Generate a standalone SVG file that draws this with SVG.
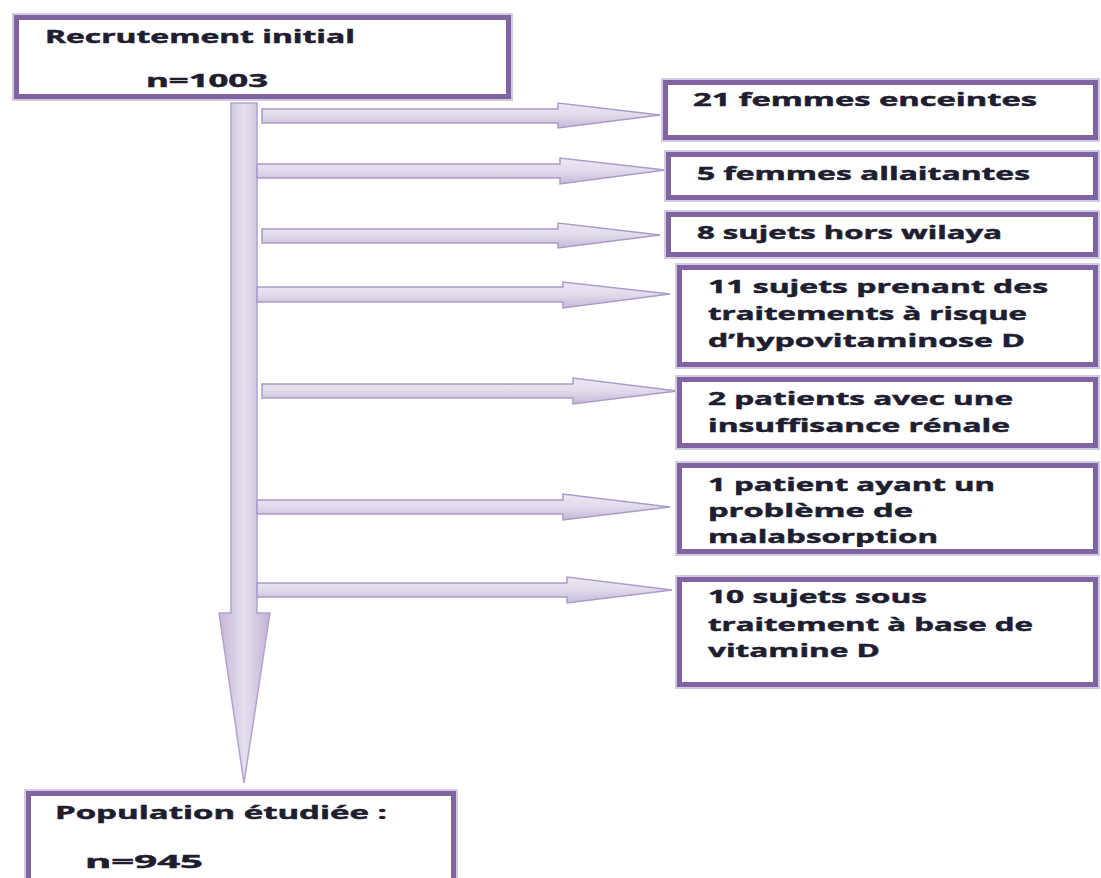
<svg xmlns="http://www.w3.org/2000/svg" width="1101" height="878" viewBox="0 0 1101 878">
  <defs>
    <linearGradient id="shaftV" x1="0" y1="0" x2="1" y2="0">
      <stop offset="0" stop-color="#c4b6d8"/>
      <stop offset="0.5" stop-color="#e6e0ef"/>
      <stop offset="1" stop-color="#c0b1d6"/>
    </linearGradient>
    <linearGradient id="shaftH" x1="0" y1="0" x2="0" y2="1">
      <stop offset="0" stop-color="#ece8f3"/>
      <stop offset="0.45" stop-color="#e3dcec"/>
      <stop offset="1" stop-color="#c6b9d9"/>
    </linearGradient>
    <clipPath id="clip6">
      <rect x="682" y="468" width="411" height="79"/>
    </clipPath>
    <style>
      .box { fill: #ffffff; stroke: #8064a2; stroke-width: 5; }
      .halo { fill: none; stroke: #d3c9e1; stroke-width: 9; }
      .lbl { font-family: "Open Sans", "DejaVu Sans", sans-serif; font-weight: 700; font-size: 17px; fill: #1e1e30; stroke: #1e1e30; stroke-width: 0.45; }
      .arrowH { fill: url(#shaftH); stroke: #ab9bc8; stroke-width: 1.5; stroke-linejoin: miter; }
      .arrowV { fill: url(#shaftV); stroke: #b3a4cc; stroke-width: 1.5; }
    </style>
  </defs>

  <!-- connectors: main downward flow and the exclusion branches -->
  <g id="connectors">
    <path class="arrowV" d="M231,103 H257 V613 H270 L244,783 L219,613 H231 Z"/>
    <path class="arrowH" d="M262,109 H558 V103 L660,115 L558,128 V123 H262 Z"/>
    <path class="arrowH" d="M257,164 H560 V158 L665,170 L560,184 V178 H257 Z"/>
    <path class="arrowH" d="M262,229 H558 V223 L660,235 L558,248 V243 H262 Z"/>
    <path class="arrowH" d="M257,287 H563 V282 L670,294 L563,308 V302 H257 Z"/>
    <path class="arrowH" d="M262,384 H573 V378 L677,391 L573,404 V398 H262 Z"/>
    <path class="arrowH" d="M257,500 H563 V494 L670,507 L563,520 V514 H257 Z"/>
    <path class="arrowH" d="M257,583 H567 V577 L672,590 L567,603 V597 H257 Z"/>
  </g>

  <g id="recrutement">
    <rect class="halo" x="16.5" y="17.5" width="492" height="79"/>
    <rect class="box" x="16.5" y="17.5" width="492" height="79"/>
    <text class="lbl" x="45" y="43" textLength="310" lengthAdjust="spacingAndGlyphs">Recrutement initial</text>
    <text class="lbl" x="146" y="87" textLength="122" lengthAdjust="spacingAndGlyphs">n=1003</text>
  </g>

  <g id="enceintes">
    <rect class="halo" x="665.5" y="82.5" width="430" height="55"/>
    <rect class="box" x="665.5" y="82.5" width="430" height="55"/>
    <text class="lbl" x="693" y="106" textLength="344" lengthAdjust="spacingAndGlyphs">21 femmes enceintes</text>
  </g>

  <g id="allaitantes">
    <rect class="halo" x="668.5" y="154.5" width="427" height="43"/>
    <rect class="box" x="668.5" y="154.5" width="427" height="43"/>
    <text class="lbl" x="697" y="180" textLength="333" lengthAdjust="spacingAndGlyphs">5 femmes allaitantes</text>
  </g>

  <g id="hors-wilaya">
    <rect class="halo" x="668.5" y="214.5" width="427" height="40"/>
    <rect class="box" x="668.5" y="214.5" width="427" height="40"/>
    <text class="lbl" x="697" y="239" textLength="305" lengthAdjust="spacingAndGlyphs">8 sujets hors wilaya</text>
  </g>

  <g id="traitements-risque">
    <rect class="halo" x="679.5" y="267.5" width="416" height="97"/>
    <rect class="box" x="679.5" y="267.5" width="416" height="97"/>
    <text class="lbl" x="708" y="293" textLength="340" lengthAdjust="spacingAndGlyphs">11 sujets prenant des</text>
    <text class="lbl" x="708" y="320" textLength="319" lengthAdjust="spacingAndGlyphs">traitements à risque</text>
    <text class="lbl" x="708" y="347" textLength="317" lengthAdjust="spacingAndGlyphs">d’hypovitaminose D</text>
  </g>

  <g id="insuffisance-renale">
    <rect class="halo" x="679.5" y="379.5" width="416" height="66"/>
    <rect class="box" x="679.5" y="379.5" width="416" height="66"/>
    <text class="lbl" x="708" y="405" textLength="305" lengthAdjust="spacingAndGlyphs">2 patients avec une</text>
    <text class="lbl" x="708" y="432" textLength="302" lengthAdjust="spacingAndGlyphs">insuffisance rénale</text>
  </g>

  <g id="malabsorption">
    <rect class="halo" x="679.5" y="465.5" width="416" height="86"/>
    <rect class="box" x="679.5" y="465.5" width="416" height="86"/>
    <!-- the last line runs into the frame: its descenders are cut off -->
    <g clip-path="url(#clip6)">
      <text class="lbl" x="708" y="491" textLength="287" lengthAdjust="spacingAndGlyphs">1 patient ayant un</text>
      <text class="lbl" x="708" y="517" textLength="205" lengthAdjust="spacingAndGlyphs">problème de</text>
      <text class="lbl" x="708" y="543" textLength="230" lengthAdjust="spacingAndGlyphs">malabsorption</text>
    </g>
  </g>

  <g id="vitamine-d">
    <rect class="halo" x="679.5" y="579.5" width="416" height="105"/>
    <rect class="box" x="679.5" y="579.5" width="416" height="105"/>
    <text class="lbl" x="708" y="603" textLength="219" lengthAdjust="spacingAndGlyphs">10 sujets sous</text>
    <text class="lbl" x="708" y="631" textLength="325" lengthAdjust="spacingAndGlyphs">traitement à base de</text>
    <text class="lbl" x="708" y="657" textLength="172" lengthAdjust="spacingAndGlyphs">vitamine D</text>
  </g>

  <g id="population">
    <rect class="halo" x="28.5" y="793.5" width="425" height="100"/>
    <rect class="box" x="28.5" y="793.5" width="425" height="100"/>
    <text class="lbl" x="55" y="819" textLength="332" lengthAdjust="spacingAndGlyphs">Population étudiée :</text>
    <text class="lbl" x="85" y="868" textLength="118" lengthAdjust="spacingAndGlyphs">n=945</text>
  </g>
</svg>
